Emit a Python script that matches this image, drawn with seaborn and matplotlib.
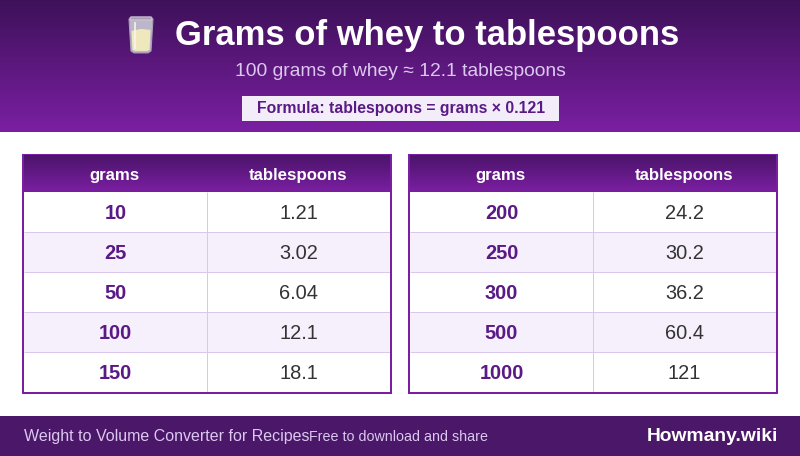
import numpy as np
import pandas as pd
import seaborn as sns
import matplotlib
matplotlib.use("Agg")
import matplotlib.pyplot as plt
from matplotlib.colors import LinearSegmentedColormap, ListedColormap
from matplotlib.patches import Rectangle, FancyBboxPatch, Polygon

sns.set_theme(style="white")
plt.rcParams['font.family'] = ['Liberation Sans', 'DejaVu Sans']

TITLE = "Grams of whey to tablespoons"
SUBTITLE = "100 grams of whey ≈ 12.1 tablespoons"
FORMULA = "Formula: tablespoons = grams × 0.121"
COLUMNS = ["grams", "tablespoons"]
grams_left = ["10", "25", "50", "100", "150"]
tbsp_left = ["1.21", "3.02", "6.04", "12.1", "18.1"]
grams_right = ["200", "250", "300", "500", "1000"]
tbsp_right = ["24.2", "30.2", "36.2", "60.4", "121"]
FOOT_L = "Weight to Volume Converter for Recipes"
FOOT_M = "Free to download and share"
BRAND = "Howmany.wiki"

W, H = 800, 456
DARK = "#3d1159"
MID = "#7b1fa2"
INK = "#5a1a86"
GRID = "#d9c8ec"
fig = plt.figure(figsize=(W / 100, H / 100 + 0.001), dpi=100, facecolor="white")
bg = fig.add_axes([0, 0, 1, 1])
bg.set_xlim(0, W)
bg.set_ylim(H, 0)
bg.axis("off")

grad = LinearSegmentedColormap.from_list("g", [DARK, MID])
g = np.linspace(0, 1, 256).reshape(-1, 1)
bg.imshow(g, cmap=grad, extent=(0, W, 132, 0), aspect="auto", zorder=1)
bg.set_xlim(0, W)
bg.set_ylim(H, 0)

px = 0.72
bg.text(427, 35.5, TITLE, ha="center", va="center", color="white", fontsize=34.6 * px,
        fontweight="bold", zorder=3)
bg.text(400, 71.5, SUBTITLE, ha="center", va="center", color="#dcc8ee", fontsize=19.3 * px, zorder=3)
bg.add_patch(Rectangle((242, 96), 317, 25, fc="#f3edfa", ec="none", zorder=2))
bg.text(401, 108.5, FORMULA, ha="center", va="center", color=INK, fontsize=15.8 * px,
        fontweight="bold", zorder=3)

# glass icon
bg.add_patch(Polygon([(129, 19), (153, 19), (151, 51), (148, 53), (134, 53), (131, 51)],
                     closed=True, fc="#bdb5c8", ec="#a89fb5", lw=0.8, zorder=3))
bg.add_patch(Polygon([(131.5, 31), (141, 29), (150.5, 30), (149.5, 50), (147, 51), (135, 51), (132.5, 50)],
                     closed=True, fc="#efe8bd", ec="none", zorder=4))
bg.add_patch(FancyBboxPatch((130, 17), 22, 3, boxstyle="round,pad=0,rounding_size=1.5",
                            fc="#a79bb6", ec="#cfc8d8", lw=0.8, zorder=5))
bg.add_patch(Rectangle((133.5, 22), 2, 27, fc="#f8f6ee", ec="none", alpha=0.8, zorder=5))

stripe = ListedColormap(["#ffffff", "#f5f0fb"])


def table(x0, grams, tbsp):
    bg.add_patch(Rectangle((x0, 154), 370, 240, fc=MID, ec="none", zorder=6))
    bg.imshow(g, cmap=grad, extent=(x0 + 2, x0 + 368, 192, 156), aspect="auto",
              zorder=7, vmin=-0.3, vmax=1)
    bg.set_xlim(0, W)
    bg.set_ylim(H, 0)
    bg.text(x0 + 93, 175.5, COLUMNS[0], ha="center", va="center", color="white",
            fontsize=16.8 * px, fontweight="bold", zorder=8)
    bg.text(x0 + 276.5, 175.5, COLUMNS[1], ha="center", va="center", color="white",
            fontsize=16.8 * px, fontweight="bold", zorder=8)
    ax = fig.add_axes([(x0 + 2) / W, 1 - 392 / H, 366 / W, 200 / H], zorder=5)
    shade = pd.DataFrame({"a": [0, 1, 0, 1, 0], "b": [0, 1, 0, 1, 0]})
    labels = np.array([grams, tbsp]).T
    sns.heatmap(shade, ax=ax, cmap=stripe, vmin=0, vmax=1, cbar=False, annot=labels, fmt="",
                linewidths=0, xticklabels=False, yticklabels=False,
                annot_kws={"fontsize": 20 * px})
    ax.hlines(range(1, 6), 0, 2, color=GRID, lw=px)
    ax.vlines([1, 2], 0, 5, color=GRID, lw=px)
    for i, t in enumerate(ax.texts):
        x, y = t.get_position()
        t.set_position((x, y + 0.025))
        if i % 2 == 0:
            t.set_color(INK)
            t.set_fontweight("bold")
        else:
            t.set_color("#333333")
    ax.set_xlabel("")
    ax.set_ylabel("")
    return ax


table(22, grams_left, tbsp_left)
table(408, grams_right, tbsp_right)

bg.add_patch(Rectangle((0, 416), W, 40, fc="#4a1769", ec="none", zorder=2))
bg.text(24, 436, FOOT_L, ha="left", va="center", color="#dcc8ee", fontsize=16 * px, zorder=3)
bg.text(309, 436.5, FOOT_M, ha="left", va="center", color="#dcc8ee", fontsize=14.2 * px, zorder=3)
bg.text(778.5, 436, BRAND, ha="right", va="center", color="white", fontsize=19.3 * px,
        fontweight="bold", zorder=3)

fig.savefig("out.png", dpi=100, facecolor="white")
